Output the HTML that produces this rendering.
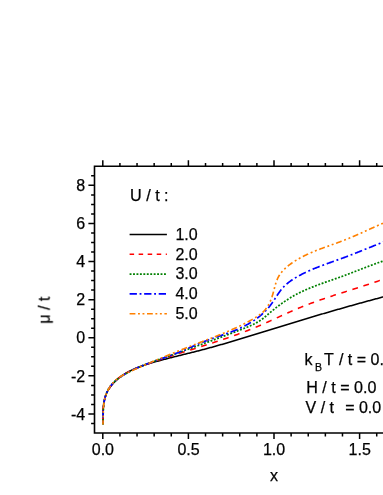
<!DOCTYPE html>
<html><head><meta charset="utf-8"><title>chart</title>
<style>html,body{margin:0;padding:0;background:#fff;width:383px;height:495px;overflow:hidden;font-family:"Liberation Sans",sans-serif}</style>
</head><body>
<svg width="383" height="495" viewBox="0 0 383 495" style="position:absolute;left:0;top:0">
<rect width="383" height="495" fill="#fff"/>
<path d="M103.01,424.48 L103.04,423.67 L103.06,422.85 L103.08,422.02 L103.09,421.19 L103.10,420.35 L103.10,419.51 L103.10,418.66 L103.10,417.80 L103.10,416.94 L103.10,416.08 L103.10,415.21 L103.11,414.34 L103.11,413.47 L103.12,412.60 L103.14,411.72 L103.16,410.85 L103.19,409.97 L103.23,409.10 L103.27,408.22 L103.33,407.35 L103.40,406.48 L103.47,405.61 L103.56,404.75 L103.67,403.88 L103.78,403.03 L103.92,402.17 L104.07,401.32 L104.23,400.48 L104.42,399.64 L104.62,398.81 L104.85,397.99 L105.09,397.17 L105.36,396.36 L105.64,395.56 L105.95,394.77 L106.28,393.99 L106.63,393.21 L106.99,392.44 L107.37,391.69 L107.77,390.94 L108.19,390.20 L108.63,389.47 L109.08,388.75 L109.54,388.04 L110.02,387.34 L110.52,386.66 L111.02,385.98 L111.55,385.31 L112.08,384.65 L112.62,384.01 L113.18,383.38 L113.75,382.75 L114.33,382.14 L114.91,381.55 L115.51,380.96 L116.12,380.38 L116.74,379.82 L117.36,379.26 L118.00,378.72 L118.64,378.19 L119.29,377.67 L119.95,377.16 L120.62,376.65 L121.30,376.16 L121.98,375.68 L122.67,375.21 L123.37,374.74 L124.08,374.29 L124.79,373.85 L125.51,373.41 L126.24,372.98 L126.97,372.56 L127.71,372.15 L128.46,371.75 L129.21,371.35 L129.96,370.97 L130.73,370.59 L131.50,370.22 L132.27,369.85 L133.05,369.49 L133.83,369.14 L134.62,368.80 L135.41,368.46 L136.20,368.13 L137.00,367.80 L137.81,367.48 L138.61,367.17 L139.42,366.86 L140.24,366.56 L141.05,366.26 L141.87,365.97 L142.69,365.68 L143.52,365.40 L144.35,365.12 L145.17,364.84 L146.00,364.57 L146.84,364.31 L147.67,364.05 L148.50,363.79 L149.34,363.53 L150.17,363.28 L151.01,363.03 L151.85,362.79 L152.69,362.54 L153.52,362.30 L154.36,362.06 L155.20,361.83 L156.04,361.59 L156.87,361.36 L157.71,361.13 L158.54,360.90 L159.38,360.68 L160.21,360.45 L161.04,360.23 L161.87,360.00 L162.71,359.78 L163.54,359.56 L164.37,359.35 L165.20,359.13 L166.03,358.91 L166.86,358.70 L167.68,358.49 L168.51,358.27 L169.34,358.06 L170.17,357.85 L170.99,357.64 L171.82,357.43 L172.64,357.23 L173.47,357.02 L174.29,356.81 L175.12,356.61 L175.94,356.40 L176.77,356.20 L177.59,355.99 L178.41,355.79 L179.23,355.59 L180.06,355.38 L180.88,355.18 L181.70,354.98 L182.52,354.78 L183.34,354.57 L184.16,354.37 L184.98,354.17 L185.81,353.97 L186.63,353.76 L187.45,353.56 L188.27,353.36 L189.09,353.15 L189.91,352.95 L190.73,352.75 L191.54,352.54 L192.36,352.34 L193.18,352.13 L194.00,351.93 L194.82,351.72 L195.64,351.51 L196.46,351.30 L197.28,351.09 L198.10,350.88 L198.92,350.67 L199.74,350.46 L200.56,350.25 L201.38,350.03 L202.20,349.82 L203.01,349.60 L203.83,349.39 L204.65,349.17 L205.47,348.95 L206.29,348.73 L207.11,348.51 L207.93,348.29 L208.75,348.06 L209.57,347.84 L210.39,347.61 L211.21,347.39 L212.03,347.16 L212.85,346.93 L213.67,346.71 L214.49,346.48 L215.31,346.25 L216.13,346.02 L216.95,345.78 L217.77,345.55 L218.59,345.32 L219.41,345.08 L220.23,344.85 L221.05,344.61 L221.87,344.38 L222.69,344.14 L223.51,343.90 L224.34,343.67 L225.16,343.43 L225.98,343.19 L226.80,342.95 L227.62,342.71 L228.44,342.46 L229.26,342.22 L230.08,341.98 L230.90,341.74 L231.72,341.49 L232.54,341.25 L233.36,341.00 L234.18,340.76 L235.00,340.51 L235.82,340.27 L236.64,340.02 L237.46,339.77 L238.28,339.53 L239.10,339.28 L239.92,339.03 L240.74,338.78 L241.56,338.53 L242.38,338.28 L243.20,338.03 L244.02,337.78 L244.84,337.53 L245.66,337.28 L246.48,337.03 L247.30,336.78 L248.12,336.53 L248.94,336.28 L249.77,336.02 L250.59,335.77 L251.41,335.52 L252.23,335.27 L253.04,335.01 L253.86,334.76 L254.68,334.51 L255.50,334.25 L256.32,334.00 L257.14,333.75 L257.96,333.49 L258.78,333.24 L259.60,332.98 L260.42,332.73 L261.24,332.48 L262.06,332.22 L262.88,331.97 L263.70,331.71 L264.52,331.46 L265.34,331.20 L266.16,330.95 L266.98,330.70 L267.80,330.44 L268.61,330.19 L269.43,329.93 L270.25,329.68 L271.07,329.43 L271.89,329.17 L272.71,328.92 L273.53,328.67 L274.35,328.41 L275.16,328.16 L275.98,327.91 L276.80,327.66 L277.62,327.40 L278.44,327.15 L279.25,326.90 L280.07,326.65 L280.89,326.40 L281.71,326.15 L282.53,325.90 L283.34,325.65 L284.16,325.39 L284.98,325.14 L285.80,324.89 L286.61,324.64 L287.43,324.39 L288.25,324.15 L289.07,323.90 L289.88,323.65 L290.70,323.40 L291.52,323.15 L292.33,322.90 L293.15,322.65 L293.97,322.41 L294.79,322.16 L295.60,321.91 L296.42,321.66 L297.24,321.42 L298.05,321.17 L298.87,320.92 L299.69,320.68 L300.51,320.43 L301.32,320.18 L302.14,319.94 L302.96,319.69 L303.77,319.45 L304.59,319.20 L305.41,318.96 L306.23,318.71 L307.04,318.47 L307.86,318.22 L308.68,317.98 L309.49,317.74 L310.31,317.49 L311.13,317.25 L311.95,317.01 L312.76,316.76 L313.58,316.52 L314.40,316.28 L315.21,316.04 L316.03,315.80 L316.85,315.56 L317.67,315.31 L318.48,315.07 L319.30,314.83 L320.12,314.59 L320.94,314.35 L321.75,314.11 L322.57,313.87 L323.39,313.63 L324.21,313.39 L325.03,313.15 L325.84,312.91 L326.66,312.68 L327.48,312.44 L328.30,312.20 L329.12,311.96 L329.94,311.72 L330.75,311.49 L331.57,311.25 L332.39,311.01 L333.21,310.78 L334.03,310.54 L334.85,310.30 L335.67,310.07 L336.49,309.83 L337.31,309.60 L338.12,309.36 L338.94,309.13 L339.76,308.89 L340.58,308.66 L341.40,308.43 L342.22,308.19 L343.04,307.96 L343.86,307.73 L344.68,307.49 L345.50,307.26 L346.32,307.03 L347.15,306.80 L347.97,306.56 L348.79,306.33 L349.61,306.10 L350.43,305.87 L351.25,305.64 L352.07,305.41 L352.89,305.18 L353.72,304.95 L354.54,304.72 L355.36,304.49 L356.18,304.26 L357.00,304.03 L357.83,303.80 L358.65,303.58 L359.47,303.35 L360.30,303.12 L361.12,302.89 L361.94,302.67 L362.77,302.44 L363.59,302.21 L364.41,301.99 L365.24,301.76 L366.06,301.54 L366.89,301.31 L367.71,301.09 L368.54,300.86 L369.36,300.64 L370.19,300.41 L371.01,300.19 L371.84,299.96 L372.66,299.74 L373.49,299.52 L374.32,299.30 L375.14,299.07 L375.97,298.85 L376.80,298.63 L377.62,298.41 L378.45,298.19 L379.28,297.97 L380.11,297.74 L380.94,297.52 L381.76,297.30 L382.59,297.08 L383.42,296.87 L384.25,296.65 L385.08,296.43 L385.91,296.21 L386.74,295.99 L387.57,295.77 L388.40,295.55 L389.23,295.34 L390.06,295.12 L390.89,294.90 L391.72,294.69 L392.56,294.47 L393.39,294.26 L394.22,294.04 L395.05,293.83" fill="none" stroke="#000000" stroke-width="1.55"/>
<path d="M103.14,424.52 L103.10,423.68 L103.06,422.84 L103.02,421.99 L102.99,421.13 L102.96,420.27 L102.94,419.41 L102.92,418.54 L102.90,417.66 L102.89,416.78 L102.89,415.90 L102.90,415.02 L102.91,414.13 L102.93,413.25 L102.96,412.36 L103.00,411.47 L103.04,410.58 L103.10,409.69 L103.16,408.81 L103.24,407.92 L103.33,407.03 L103.43,406.15 L103.54,405.27 L103.66,404.39 L103.79,403.52 L103.94,402.65 L104.11,401.79 L104.28,400.93 L104.47,400.07 L104.68,399.22 L104.90,398.38 L105.14,397.55 L105.40,396.72 L105.67,395.90 L105.96,395.09 L106.26,394.29 L106.59,393.49 L106.93,392.71 L107.30,391.93 L107.68,391.17 L108.08,390.42 L108.49,389.67 L108.93,388.94 L109.37,388.22 L109.84,387.50 L110.32,386.80 L110.82,386.11 L111.33,385.43 L111.86,384.76 L112.40,384.10 L112.96,383.46 L113.52,382.82 L114.11,382.20 L114.70,381.59 L115.31,380.98 L115.93,380.40 L116.56,379.82 L117.20,379.25 L117.85,378.70 L118.51,378.16 L119.18,377.63 L119.87,377.11 L120.56,376.61 L121.26,376.11 L121.97,375.63 L122.69,375.15 L123.41,374.69 L124.15,374.23 L124.89,373.79 L125.64,373.35 L126.40,372.92 L127.16,372.51 L127.93,372.10 L128.70,371.69 L129.48,371.30 L130.27,370.91 L131.06,370.53 L131.86,370.16 L132.66,369.79 L133.47,369.43 L134.28,369.08 L135.09,368.73 L135.90,368.39 L136.72,368.05 L137.54,367.72 L138.37,367.39 L139.20,367.06 L140.02,366.74 L140.85,366.43 L141.68,366.11 L142.51,365.80 L143.35,365.50 L144.18,365.19 L145.01,364.89 L145.84,364.59 L146.67,364.29 L147.50,363.99 L148.33,363.69 L149.16,363.40 L149.99,363.11 L150.82,362.81 L151.65,362.52 L152.48,362.24 L153.30,361.95 L154.13,361.66 L154.96,361.38 L155.78,361.10 L156.61,360.81 L157.43,360.53 L158.26,360.25 L159.08,359.98 L159.91,359.70 L160.73,359.42 L161.56,359.15 L162.38,358.88 L163.20,358.60 L164.03,358.33 L164.85,358.06 L165.67,357.79 L166.49,357.52 L167.31,357.25 L168.14,356.99 L168.96,356.72 L169.78,356.46 L170.60,356.19 L171.42,355.93 L172.24,355.66 L173.07,355.40 L173.89,355.14 L174.71,354.88 L175.53,354.62 L176.35,354.36 L177.17,354.10 L177.99,353.84 L178.81,353.58 L179.63,353.32 L180.46,353.06 L181.28,352.80 L182.10,352.54 L182.92,352.29 L183.74,352.03 L184.56,351.77 L185.39,351.51 L186.21,351.26 L187.03,351.00 L187.85,350.74 L188.68,350.48 L189.50,350.23 L190.32,349.97 L191.14,349.71 L191.97,349.45 L192.79,349.20 L193.62,348.94 L194.44,348.68 L195.27,348.42 L196.09,348.16 L196.92,347.90 L197.74,347.65 L198.57,347.39 L199.39,347.13 L200.22,346.87 L201.05,346.60 L201.87,346.34 L202.70,346.08 L203.53,345.82 L204.35,345.56 L205.18,345.29 L206.01,345.03 L206.83,344.77 L207.66,344.50 L208.49,344.24 L209.32,343.97 L210.14,343.70 L210.97,343.44 L211.80,343.17 L212.63,342.90 L213.45,342.63 L214.28,342.36 L215.11,342.09 L215.93,341.82 L216.76,341.55 L217.59,341.27 L218.41,341.00 L219.24,340.73 L220.07,340.45 L220.89,340.17 L221.72,339.90 L222.54,339.62 L223.37,339.34 L224.19,339.06 L225.02,338.78 L225.84,338.49 L226.67,338.21 L227.49,337.93 L228.31,337.64 L229.14,337.35 L229.96,337.07 L230.78,336.78 L231.60,336.49 L232.43,336.20 L233.25,335.90 L234.07,335.61 L234.89,335.32 L235.71,335.02 L236.53,334.72 L237.35,334.42 L238.16,334.12 L238.98,333.82 L239.80,333.52 L240.62,333.22 L241.43,332.91 L242.25,332.60 L243.06,332.29 L243.88,331.98 L244.69,331.67 L245.50,331.36 L246.32,331.05 L247.13,330.73 L247.94,330.41 L248.75,330.09 L249.56,329.77 L250.37,329.45 L251.18,329.13 L251.98,328.80 L252.79,328.47 L253.59,328.14 L254.40,327.81 L255.20,327.48 L256.01,327.15 L256.81,326.81 L257.61,326.47 L258.41,326.13 L259.21,325.79 L260.01,325.45 L260.81,325.10 L261.60,324.76 L262.40,324.41 L263.20,324.06 L263.99,323.71 L264.78,323.35 L265.58,323.00 L266.37,322.65 L267.16,322.29 L267.96,321.93 L268.75,321.58 L269.54,321.22 L270.33,320.86 L271.12,320.50 L271.91,320.14 L272.70,319.78 L273.49,319.42 L274.28,319.06 L275.07,318.69 L275.86,318.33 L276.65,317.97 L277.43,317.61 L278.22,317.25 L279.01,316.88 L279.80,316.52 L280.59,316.16 L281.38,315.80 L282.17,315.44 L282.96,315.08 L283.75,314.72 L284.54,314.36 L285.33,314.00 L286.12,313.64 L286.91,313.28 L287.70,312.93 L288.49,312.57 L289.28,312.22 L290.07,311.87 L290.87,311.52 L291.66,311.17 L292.45,310.82 L293.25,310.47 L294.04,310.13 L294.84,309.78 L295.63,309.44 L296.43,309.10 L297.23,308.76 L298.03,308.42 L298.83,308.09 L299.63,307.76 L300.43,307.43 L301.23,307.10 L302.04,306.77 L302.84,306.45 L303.65,306.13 L304.45,305.81 L305.26,305.49 L306.07,305.17 L306.88,304.86 L307.69,304.55 L308.50,304.24 L309.31,303.93 L310.12,303.62 L310.93,303.32 L311.75,303.02 L312.56,302.72 L313.38,302.42 L314.19,302.12 L315.01,301.82 L315.83,301.53 L316.64,301.24 L317.46,300.94 L318.28,300.65 L319.10,300.36 L319.92,300.08 L320.74,299.79 L321.56,299.51 L322.38,299.22 L323.21,298.94 L324.03,298.66 L324.85,298.38 L325.68,298.10 L326.50,297.82 L327.32,297.55 L328.15,297.27 L328.97,297.00 L329.80,296.72 L330.63,296.45 L331.45,296.18 L332.28,295.90 L333.11,295.63 L333.93,295.36 L334.76,295.10 L335.59,294.83 L336.42,294.56 L337.25,294.29 L338.08,294.03 L338.91,293.76 L339.73,293.49 L340.56,293.23 L341.39,292.96 L342.22,292.70 L343.05,292.43 L343.88,292.17 L344.71,291.91 L345.54,291.64 L346.37,291.38 L347.20,291.12 L348.03,290.86 L348.86,290.59 L349.70,290.33 L350.53,290.07 L351.36,289.80 L352.19,289.54 L353.02,289.28 L353.85,289.02 L354.68,288.75 L355.51,288.49 L356.34,288.23 L357.17,287.96 L358.00,287.70 L358.82,287.43 L359.65,287.17 L360.48,286.90 L361.31,286.64 L362.14,286.37 L362.97,286.10 L363.80,285.84 L364.62,285.57 L365.45,285.30 L366.28,285.03 L367.11,284.76 L367.93,284.49 L368.76,284.22 L369.58,283.95 L370.41,283.67 L371.23,283.40 L372.06,283.12 L372.88,282.85 L373.71,282.57 L374.53,282.29 L375.35,282.01 L376.17,281.73 L376.99,281.45 L377.82,281.17 L378.64,280.88 L379.46,280.60 L380.27,280.31 L381.09,280.02 L381.91,279.73 L382.73,279.44 L383.55,279.15 L384.36,278.86 L385.18,278.56 L385.99,278.27 L386.81,277.97 L387.62,277.67 L388.43,277.37 L389.24,277.06 L390.05,276.76 L390.86,276.45 L391.67,276.14 L392.48,275.83 L393.29,275.52 L394.10,275.20 L394.90,274.89" fill="none" stroke="#ff0000" stroke-width="1.55" stroke-dasharray="5.8 5.757" stroke-dashoffset="10.267"/>
<path d="M102.94,424.37 L102.96,423.58 L102.98,422.77 L102.99,421.94 L103.01,421.11 L103.02,420.26 L103.03,419.40 L103.05,418.54 L103.06,417.67 L103.08,416.78 L103.10,415.89 L103.12,415.00 L103.15,414.10 L103.18,413.19 L103.22,412.28 L103.26,411.36 L103.31,410.45 L103.37,409.53 L103.43,408.61 L103.51,407.69 L103.59,406.77 L103.68,405.85 L103.78,404.93 L103.90,404.01 L104.02,403.10 L104.16,402.19 L104.32,401.29 L104.48,400.39 L104.66,399.49 L104.86,398.61 L105.07,397.73 L105.30,396.86 L105.54,396.00 L105.80,395.15 L106.08,394.31 L106.38,393.48 L106.70,392.66 L107.04,391.85 L107.41,391.06 L107.79,390.28 L108.19,389.52 L108.62,388.77 L109.07,388.04 L109.55,387.33 L110.04,386.63 L110.55,385.94 L111.09,385.27 L111.64,384.61 L112.21,383.96 L112.80,383.33 L113.41,382.71 L114.03,382.10 L114.66,381.51 L115.31,380.92 L115.98,380.35 L116.66,379.79 L117.35,379.24 L118.05,378.70 L118.77,378.18 L119.49,377.66 L120.23,377.15 L120.97,376.65 L121.72,376.16 L122.48,375.68 L123.25,375.20 L124.02,374.74 L124.80,374.28 L125.59,373.83 L126.38,373.39 L127.17,372.95 L127.96,372.52 L128.76,372.10 L129.55,371.68 L130.35,371.27 L131.16,370.86 L131.96,370.46 L132.76,370.06 L133.57,369.67 L134.38,369.29 L135.19,368.91 L136.00,368.53 L136.81,368.16 L137.62,367.79 L138.44,367.43 L139.25,367.07 L140.07,366.72 L140.89,366.37 L141.71,366.02 L142.53,365.68 L143.35,365.34 L144.17,365.01 L145.00,364.68 L145.82,364.35 L146.65,364.02 L147.47,363.70 L148.30,363.38 L149.13,363.06 L149.96,362.75 L150.79,362.44 L151.62,362.13 L152.45,361.82 L153.28,361.52 L154.12,361.21 L154.95,360.91 L155.78,360.61 L156.62,360.31 L157.45,360.01 L158.29,359.72 L159.12,359.42 L159.96,359.13 L160.80,358.83 L161.63,358.54 L162.47,358.25 L163.31,357.96 L164.14,357.67 L164.98,357.38 L165.82,357.08 L166.66,356.79 L167.49,356.50 L168.33,356.21 L169.17,355.92 L170.00,355.62 L170.84,355.33 L171.68,355.04 L172.52,354.74 L173.35,354.45 L174.19,354.16 L175.03,353.86 L175.87,353.57 L176.70,353.27 L177.54,352.98 L178.38,352.68 L179.22,352.38 L180.05,352.09 L180.89,351.79 L181.73,351.49 L182.56,351.20 L183.40,350.90 L184.24,350.60 L185.08,350.30 L185.91,350.00 L186.75,349.70 L187.59,349.40 L188.42,349.10 L189.26,348.80 L190.10,348.50 L190.93,348.20 L191.77,347.90 L192.61,347.60 L193.44,347.30 L194.28,347.00 L195.12,346.70 L195.95,346.39 L196.79,346.09 L197.63,345.79 L198.46,345.48 L199.30,345.18 L200.13,344.88 L200.97,344.57 L201.81,344.27 L202.64,343.96 L203.48,343.66 L204.31,343.35 L205.15,343.05 L205.99,342.74 L206.82,342.43 L207.66,342.13 L208.49,341.82 L209.33,341.51 L210.16,341.20 L211.00,340.89 L211.83,340.59 L212.67,340.28 L213.50,339.97 L214.34,339.66 L215.17,339.35 L216.01,339.04 L216.84,338.73 L217.67,338.42 L218.51,338.11 L219.34,337.80 L220.18,337.48 L221.01,337.17 L221.84,336.86 L222.68,336.55 L223.51,336.23 L224.34,335.92 L225.18,335.61 L226.01,335.29 L226.84,334.98 L227.68,334.66 L228.51,334.35 L229.34,334.03 L230.17,333.72 L231.01,333.40 L231.84,333.09 L232.67,332.77 L233.50,332.45 L234.33,332.14 L235.17,331.82 L236.00,331.50 L236.83,331.18 L237.66,330.86 L238.49,330.55 L239.32,330.23 L240.15,329.91 L240.98,329.59 L241.81,329.27 L242.64,328.95 L243.47,328.63 L244.30,328.30 L245.13,327.97 L245.95,327.65 L246.78,327.31 L247.60,326.97 L248.41,326.63 L249.23,326.28 L250.04,325.93 L250.85,325.57 L251.65,325.20 L252.45,324.83 L253.24,324.44 L254.03,324.05 L254.82,323.65 L255.60,323.24 L256.37,322.81 L257.13,322.38 L257.89,321.93 L258.64,321.47 L259.39,321.00 L260.12,320.51 L260.85,320.01 L261.57,319.50 L262.29,318.97 L263.00,318.44 L263.70,317.89 L264.40,317.34 L265.09,316.78 L265.78,316.21 L266.47,315.64 L267.16,315.06 L267.84,314.48 L268.53,313.90 L269.21,313.32 L269.90,312.74 L270.58,312.17 L271.27,311.59 L271.96,311.02 L272.65,310.45 L273.35,309.89 L274.04,309.33 L274.74,308.77 L275.44,308.22 L276.15,307.67 L276.85,307.12 L277.56,306.58 L278.27,306.04 L278.98,305.51 L279.69,304.98 L280.41,304.45 L281.13,303.93 L281.85,303.41 L282.58,302.90 L283.30,302.39 L284.03,301.88 L284.77,301.38 L285.50,300.89 L286.24,300.40 L286.98,299.91 L287.72,299.43 L288.47,298.96 L289.22,298.49 L289.97,298.02 L290.72,297.56 L291.48,297.11 L292.24,296.66 L293.01,296.22 L293.77,295.78 L294.54,295.35 L295.32,294.92 L296.09,294.50 L296.87,294.09 L297.66,293.68 L298.44,293.28 L299.23,292.88 L300.02,292.48 L300.82,292.10 L301.61,291.72 L302.41,291.34 L303.22,290.96 L304.02,290.60 L304.83,290.23 L305.64,289.87 L306.45,289.52 L307.26,289.17 L308.08,288.82 L308.90,288.47 L309.72,288.13 L310.54,287.80 L311.36,287.46 L312.19,287.13 L313.01,286.81 L313.84,286.48 L314.67,286.16 L315.50,285.84 L316.34,285.53 L317.17,285.21 L318.01,284.90 L318.84,284.59 L319.68,284.29 L320.52,283.98 L321.36,283.68 L322.20,283.37 L323.04,283.07 L323.88,282.77 L324.72,282.48 L325.56,282.18 L326.41,281.88 L327.25,281.59 L328.09,281.29 L328.94,281.00 L329.78,280.71 L330.63,280.41 L331.47,280.12 L332.31,279.82 L333.16,279.53 L334.00,279.24 L334.84,278.94 L335.69,278.65 L336.53,278.35 L337.37,278.06 L338.21,277.76 L339.05,277.46 L339.89,277.16 L340.73,276.86 L341.57,276.56 L342.40,276.25 L343.24,275.95 L344.07,275.64 L344.91,275.33 L345.74,275.02 L346.57,274.71 L347.40,274.40 L348.24,274.08 L349.07,273.77 L349.90,273.45 L350.72,273.14 L351.55,272.82 L352.38,272.50 L353.21,272.18 L354.04,271.86 L354.86,271.55 L355.69,271.23 L356.52,270.91 L357.34,270.59 L358.17,270.27 L359.00,269.95 L359.82,269.63 L360.65,269.31 L361.47,268.99 L362.30,268.67 L363.13,268.35 L363.95,268.03 L364.78,267.71 L365.61,267.39 L366.43,267.08 L367.26,266.76 L368.09,266.45 L368.92,266.13 L369.75,265.82 L370.58,265.51 L371.41,265.20 L372.24,264.89 L373.07,264.58 L373.90,264.28 L374.73,263.97 L375.57,263.67 L376.40,263.37 L377.24,263.07 L378.07,262.77 L378.91,262.47 L379.75,262.18 L380.59,261.89 L381.43,261.60 L382.27,261.31 L383.11,261.03 L383.96,260.74 L384.80,260.46 L385.65,260.19 L386.50,259.91 L387.35,259.64 L388.20,259.37 L389.05,259.10 L389.91,258.84 L390.76,258.58 L391.62,258.32 L392.48,258.07 L393.34,257.82 L394.20,257.57 L395.07,257.33" fill="none" stroke="#008000" stroke-width="1.75" stroke-dasharray="1.9 1.6" stroke-dashoffset="0.000"/>
<path d="M103.02,424.44 L103.02,423.59 L103.01,422.73 L103.00,421.86 L103.00,420.98 L102.99,420.09 L102.99,419.19 L102.99,418.28 L103.00,417.37 L103.01,416.45 L103.02,415.52 L103.04,414.59 L103.07,413.66 L103.10,412.72 L103.14,411.77 L103.19,410.83 L103.25,409.88 L103.32,408.93 L103.39,407.99 L103.48,407.04 L103.58,406.10 L103.69,405.15 L103.81,404.21 L103.94,403.28 L104.09,402.34 L104.25,401.42 L104.43,400.50 L104.63,399.58 L104.84,398.67 L105.06,397.77 L105.31,396.88 L105.57,396.00 L105.85,395.13 L106.15,394.26 L106.47,393.41 L106.81,392.58 L107.17,391.75 L107.55,390.94 L107.96,390.14 L108.39,389.36 L108.84,388.60 L109.32,387.84 L109.81,387.11 L110.33,386.39 L110.87,385.68 L111.43,384.99 L112.01,384.31 L112.60,383.64 L113.22,382.99 L113.85,382.35 L114.49,381.73 L115.16,381.11 L115.83,380.51 L116.53,379.92 L117.23,379.35 L117.95,378.78 L118.68,378.22 L119.42,377.68 L120.17,377.14 L120.93,376.62 L121.70,376.11 L122.48,375.60 L123.27,375.11 L124.06,374.62 L124.86,374.14 L125.67,373.68 L126.48,373.22 L127.29,372.76 L128.11,372.32 L128.93,371.88 L129.75,371.45 L130.58,371.03 L131.41,370.61 L132.24,370.20 L133.07,369.80 L133.90,369.40 L134.74,369.01 L135.58,368.62 L136.42,368.24 L137.26,367.87 L138.11,367.50 L138.95,367.13 L139.80,366.78 L140.65,366.42 L141.50,366.07 L142.35,365.72 L143.21,365.38 L144.06,365.04 L144.92,364.71 L145.78,364.38 L146.64,364.05 L147.50,363.72 L148.36,363.40 L149.22,363.08 L150.08,362.77 L150.94,362.45 L151.81,362.14 L152.67,361.83 L153.54,361.52 L154.40,361.21 L155.27,360.90 L156.13,360.60 L157.00,360.29 L157.87,359.99 L158.73,359.69 L159.60,359.38 L160.47,359.08 L161.33,358.78 L162.20,358.48 L163.07,358.17 L163.93,357.87 L164.80,357.56 L165.66,357.26 L166.53,356.95 L167.39,356.64 L168.25,356.33 L169.12,356.02 L169.98,355.70 L170.84,355.39 L171.70,355.07 L172.56,354.75 L173.41,354.42 L174.27,354.09 L175.13,353.76 L175.98,353.43 L176.83,353.09 L177.68,352.75 L178.53,352.41 L179.38,352.06 L180.23,351.71 L181.08,351.36 L181.92,351.01 L182.77,350.65 L183.61,350.29 L184.46,349.93 L185.30,349.57 L186.15,349.21 L186.99,348.85 L187.83,348.48 L188.67,348.12 L189.52,347.76 L190.36,347.39 L191.20,347.03 L192.04,346.66 L192.89,346.30 L193.73,345.93 L194.57,345.57 L195.42,345.21 L196.26,344.85 L197.11,344.49 L197.95,344.13 L198.80,343.78 L199.65,343.42 L200.50,343.07 L201.35,342.72 L202.20,342.37 L203.05,342.03 L203.90,341.69 L204.76,341.35 L205.61,341.01 L206.47,340.68 L207.33,340.36 L208.19,340.03 L209.05,339.71 L209.91,339.40 L210.78,339.08 L211.64,338.77 L212.51,338.47 L213.38,338.16 L214.25,337.86 L215.12,337.56 L215.99,337.26 L216.86,336.96 L217.73,336.66 L218.61,336.36 L219.48,336.06 L220.35,335.77 L221.22,335.47 L222.09,335.17 L222.97,334.87 L223.84,334.57 L224.71,334.27 L225.58,333.96 L226.45,333.65 L227.31,333.34 L228.18,333.03 L229.05,332.71 L229.91,332.39 L230.77,332.07 L231.64,331.74 L232.50,331.41 L233.35,331.08 L234.21,330.73 L235.06,330.39 L235.92,330.03 L236.77,329.67 L237.61,329.31 L238.46,328.94 L239.30,328.56 L240.14,328.18 L240.98,327.79 L241.81,327.39 L242.64,326.99 L243.46,326.58 L244.29,326.16 L245.10,325.74 L245.92,325.31 L246.73,324.87 L247.53,324.42 L248.33,323.97 L249.13,323.51 L249.92,323.04 L250.70,322.57 L251.48,322.09 L252.26,321.60 L253.03,321.10 L253.79,320.60 L254.55,320.09 L255.30,319.57 L256.04,319.04 L256.78,318.50 L257.51,317.96 L258.23,317.40 L258.95,316.84 L259.66,316.27 L260.36,315.69 L261.06,315.11 L261.75,314.51 L262.43,313.91 L263.10,313.30 L263.76,312.67 L264.41,312.04 L265.06,311.40 L265.70,310.76 L266.33,310.10 L266.95,309.43 L267.56,308.75 L268.16,308.07 L268.75,307.37 L269.33,306.67 L269.90,305.95 L270.46,305.23 L271.01,304.49 L271.55,303.75 L272.09,303.00 L272.61,302.24 L273.13,301.47 L273.65,300.71 L274.16,299.93 L274.67,299.16 L275.18,298.38 L275.68,297.61 L276.19,296.83 L276.70,296.06 L277.21,295.29 L277.72,294.52 L278.24,293.76 L278.76,293.00 L279.29,292.25 L279.83,291.51 L280.37,290.78 L280.93,290.05 L281.50,289.34 L282.08,288.64 L282.67,287.96 L283.27,287.28 L283.90,286.63 L284.53,285.99 L285.18,285.36 L285.85,284.75 L286.52,284.15 L287.21,283.56 L287.91,282.99 L288.63,282.43 L289.35,281.88 L290.08,281.34 L290.82,280.82 L291.57,280.30 L292.32,279.79 L293.09,279.30 L293.86,278.81 L294.63,278.32 L295.41,277.85 L296.19,277.38 L296.98,276.92 L297.77,276.47 L298.57,276.02 L299.37,275.58 L300.17,275.14 L300.98,274.71 L301.79,274.29 L302.60,273.87 L303.42,273.46 L304.24,273.06 L305.07,272.65 L305.89,272.26 L306.72,271.87 L307.56,271.48 L308.39,271.10 L309.23,270.72 L310.07,270.35 L310.91,269.98 L311.76,269.62 L312.60,269.26 L313.45,268.90 L314.31,268.55 L315.16,268.20 L316.02,267.85 L316.87,267.51 L317.73,267.17 L318.59,266.84 L319.45,266.50 L320.32,266.17 L321.18,265.84 L322.05,265.51 L322.92,265.19 L323.78,264.87 L324.65,264.55 L325.52,264.23 L326.39,263.91 L327.26,263.59 L328.13,263.28 L329.01,262.96 L329.88,262.65 L330.75,262.34 L331.62,262.03 L332.50,261.72 L333.37,261.41 L334.24,261.09 L335.11,260.78 L335.98,260.47 L336.86,260.16 L337.73,259.85 L338.60,259.54 L339.46,259.23 L340.33,258.91 L341.20,258.60 L342.07,258.28 L342.93,257.96 L343.80,257.65 L344.66,257.33 L345.52,257.00 L346.38,256.68 L347.24,256.36 L348.10,256.03 L348.95,255.70 L349.81,255.38 L350.66,255.05 L351.52,254.72 L352.37,254.39 L353.22,254.05 L354.08,253.72 L354.93,253.39 L355.78,253.05 L356.63,252.72 L357.48,252.38 L358.33,252.04 L359.18,251.70 L360.02,251.37 L360.87,251.03 L361.72,250.69 L362.57,250.35 L363.42,250.01 L364.26,249.67 L365.11,249.32 L365.96,248.98 L366.80,248.64 L367.65,248.30 L368.50,247.96 L369.34,247.62 L370.19,247.27 L371.04,246.93 L371.89,246.59 L372.74,246.25 L373.58,245.91 L374.43,245.57 L375.28,245.23 L376.13,244.88 L376.98,244.54 L377.84,244.20 L378.69,243.87 L379.54,243.53 L380.39,243.19 L381.25,242.85 L382.10,242.51 L382.96,242.18 L383.82,241.84 L384.67,241.51 L385.53,241.17 L386.39,240.84 L387.25,240.51 L388.12,240.18 L388.98,239.85 L389.84,239.52 L390.71,239.19 L391.58,238.87 L392.45,238.54 L393.32,238.22 L394.19,237.89 L395.06,237.57" fill="none" stroke="#0000ff" stroke-width="1.7" stroke-dasharray="7.56 2.8 1.92 2.8" stroke-dashoffset="8.530"/>
<path d="M102.94,424.46 L102.97,423.54 L103.00,422.61 L103.03,421.68 L103.05,420.74 L103.06,419.80 L103.08,418.85 L103.09,417.90 L103.11,416.95 L103.12,415.99 L103.14,415.03 L103.16,414.07 L103.19,413.11 L103.22,412.14 L103.26,411.18 L103.30,410.21 L103.36,409.24 L103.42,408.28 L103.50,407.31 L103.59,406.34 L103.69,405.38 L103.80,404.42 L103.93,403.46 L104.08,402.51 L104.24,401.55 L104.42,400.60 L104.63,399.66 L104.84,398.72 L105.08,397.79 L105.34,396.86 L105.62,395.95 L105.92,395.04 L106.24,394.14 L106.58,393.25 L106.94,392.36 L107.33,391.50 L107.74,390.64 L108.17,389.79 L108.63,388.96 L109.11,388.14 L109.62,387.33 L110.15,386.54 L110.70,385.77 L111.27,385.01 L111.86,384.26 L112.47,383.53 L113.10,382.82 L113.75,382.13 L114.42,381.45 L115.10,380.79 L115.80,380.15 L116.52,379.52 L117.25,378.92 L118.00,378.34 L118.76,377.77 L119.54,377.22 L120.32,376.69 L121.12,376.18 L121.93,375.68 L122.75,375.20 L123.58,374.73 L124.42,374.27 L125.26,373.82 L126.11,373.39" fill="none" stroke="#ff8000" stroke-width="1.65" stroke-dasharray="5.97 2.68 1.95 2.68 1.95 2.68" stroke-dashoffset="1.700"/>
<path d="M126.11,373.39 L126.97,372.96 L127.84,372.54 L128.71,372.13 L129.58,371.72 L130.46,371.32 L131.33,370.92 L132.21,370.53 L133.10,370.14 L133.98,369.75 L134.86,369.36 L135.74,368.97 L136.62,368.58 L137.50,368.20 L138.39,367.81 L139.27,367.42 L140.15,367.04 L141.03,366.66 L141.91,366.27 L142.79,365.89 L143.67,365.51 L144.55,365.13 L145.43,364.75 L146.32,364.37 L147.20,363.99 L148.08,363.61 L148.96,363.23 L149.84,362.85 L150.72,362.48 L151.60,362.10 L152.48,361.73 L153.36,361.35 L154.24,360.98 L155.13,360.60 L156.01,360.23 L156.89,359.86 L157.77,359.49 L158.65,359.12 L159.53,358.75 L160.41,358.38 L161.30,358.01 L162.18,357.64 L163.06,357.28 L163.94,356.91 L164.82,356.54 L165.71,356.18 L166.59,355.81 L167.47,355.45 L168.35,355.09 L169.24,354.72 L170.12,354.36 L171.00,354.00 L171.89,353.64 L172.77,353.28 L173.65,352.92 L174.54,352.56 L175.42,352.20 L176.30,351.84 L177.19,351.48 L178.07,351.13 L178.96,350.77 L179.84,350.42 L180.73,350.06 L181.61,349.71 L182.50,349.35 L183.38,349.00 L184.27,348.65 L185.16,348.29 L186.04,347.94 L186.93,347.59 L187.82,347.24 L188.70,346.89 L189.59,346.54 L190.48,346.19 L191.37,345.84 L192.26,345.50 L193.15,345.15 L194.03,344.80 L194.92,344.45 L195.81,344.11 L196.70,343.76 L197.59,343.42 L198.49,343.07 L199.38,342.73 L200.27,342.39 L201.16,342.04 L202.05,341.70 L202.94,341.36 L203.83,341.01 L204.73,340.67 L205.62,340.33 L206.51,339.98 L207.40,339.64 L208.29,339.29 L209.19,338.95 L210.08,338.60 L210.97,338.26 L211.86,337.91 L212.75,337.56 L213.64,337.21 L214.53,336.86 L215.42,336.51 L216.31,336.16 L217.20,335.80 L218.09,335.45 L218.98,335.09 L219.86,334.73 L220.75,334.37 L221.64,334.01 L222.52,333.65 L223.41,333.28 L224.29,332.92 L225.17,332.55 L226.06,332.18 L226.94,331.80 L227.82,331.43 L228.70,331.05 L229.58,330.67 L230.46,330.28 L231.33,329.90 L232.21,329.51 L233.08,329.12 L233.96,328.72 L234.83,328.33 L235.70,327.93 L236.57,327.52 L237.44,327.12 L238.30,326.71 L239.17,326.29 L240.03,325.88 L240.90,325.45 L241.76,325.03 L242.62,324.60 L243.48,324.17 L244.33,323.74 L245.19,323.30 L246.04,322.85 L246.89,322.40 L247.74,321.95 L248.59,321.50 L249.44,321.03 L250.28,320.57 L251.12,320.10 L251.96,319.62 L252.80,319.14 L253.64,318.66 L254.47,318.17 L255.29,317.67 L256.11,317.16 L256.92,316.65 L257.72,316.12 L258.51,315.58 L259.29,315.03 L260.05,314.46 L260.80,313.89 L261.53,313.29 L262.24,312.68 L262.93,312.05 L263.60,311.41 L264.25,310.74 L264.87,310.05 L265.47,309.35 L266.05,308.62 L266.60,307.87 L267.13,307.11 L267.64,306.32 L268.12,305.52 L268.59,304.71 L269.04,303.88 L269.47,303.03 L269.88,302.17 L270.27,301.30 L270.64,300.42 L271.00,299.52 L271.35,298.62 L271.68,297.71 L272.00,296.79 L272.30,295.86 L272.59,294.92 L272.87,293.98 L273.14,293.04 L273.40,292.09 L273.66,291.14 L273.91,290.18 L274.15,289.23 L274.40,288.28 L274.65,287.33 L274.91,286.38 L275.17,285.44 L275.43,284.51 L275.71,283.58 L276.01,282.66 L276.31,281.75 L276.64,280.86 L276.98,279.97 L277.34,279.10 L277.73,278.24 L278.14,277.40 L278.58,276.57 L279.05,275.77 L279.54,274.98 L280.06,274.20 L280.61,273.45 L281.18,272.71 L281.77,271.98 L282.38,271.27 L283.00,270.57 L283.65,269.89 L284.32,269.23 L285.00,268.57 L285.69,267.93 L286.40,267.30 L287.12,266.68 L287.85,266.08 L288.60,265.48 L289.35,264.90 L290.10,264.33 L290.87,263.77 L291.64,263.22 L292.41,262.67 L293.20,262.14 L293.99,261.62 L294.78,261.10 L295.58,260.60 L296.39,260.10 L297.20,259.61 L298.02,259.13 L298.84,258.66 L299.67,258.20 L300.50,257.74 L301.34,257.29 L302.18,256.85 L303.03,256.41 L303.88,255.98 L304.73,255.56 L305.59,255.15 L306.45,254.74 L307.32,254.33 L308.19,253.94 L309.06,253.54 L309.94,253.16 L310.82,252.78 L311.70,252.40 L312.58,252.03 L313.47,251.66 L314.36,251.29 L315.26,250.93 L316.15,250.58 L317.05,250.22 L317.95,249.87 L318.85,249.53 L319.75,249.18 L320.66,248.84 L321.56,248.50 L322.47,248.17 L323.38,247.83 L324.29,247.50 L325.20,247.17 L326.11,246.84 L327.02,246.51 L327.93,246.18 L328.84,245.85 L329.75,245.53 L330.66,245.20 L331.58,244.87 L332.49,244.55 L333.40,244.22 L334.31,243.89 L335.22,243.57 L336.12,243.24 L337.03,242.91 L337.94,242.57 L338.84,242.24 L339.74,241.90 L340.64,241.57 L341.54,241.23 L342.44,240.88 L343.34,240.54 L344.23,240.19 L345.12,239.84 L346.01,239.49 L346.90,239.13 L347.78,238.77 L348.67,238.41 L349.55,238.05 L350.43,237.68 L351.31,237.31 L352.18,236.94 L353.06,236.57 L353.93,236.20 L354.81,235.82 L355.68,235.44 L356.55,235.06 L357.42,234.68 L358.29,234.30 L359.16,233.92 L360.02,233.53 L360.89,233.15 L361.76,232.76 L362.62,232.37 L363.49,231.98 L364.35,231.59 L365.22,231.20 L366.08,230.81 L366.95,230.42 L367.81,230.03 L368.68,229.64 L369.54,229.25 L370.41,228.86 L371.27,228.46 L372.14,228.07 L373.00,227.68 L373.87,227.29 L374.74,226.90 L375.61,226.51 L376.48,226.12 L377.35,225.73 L378.22,225.34 L379.09,224.95 L379.97,224.56 L380.84,224.18 L381.72,223.79 L382.59,223.41 L383.47,223.02 L384.35,222.64 L385.24,222.26 L386.12,221.89 L387.01,221.51 L387.90,221.13 L388.79,220.76 L389.68,220.39 L390.57,220.02 L391.47,219.66 L392.37,219.29 L393.27,218.93 L394.17,218.57 L395.08,218.21" fill="none" stroke="#ff8000" stroke-width="1.65" stroke-dasharray="5.97 2.68 1.95 2.68 1.95 2.68" stroke-dashoffset="11.413"/>
<path d="M385,166.3 L94.5,166.3 L94.5,433.0 L385,433.0" fill="none" stroke="#000" stroke-width="1.6" stroke-linejoin="miter"/>
<path d="M102.80,433.0 v6.1 M102.80,166.3 v-6.1 M119.92,433.0 v3.4 M119.92,166.3 v-3.4 M137.04,433.0 v3.4 M137.04,166.3 v-3.4 M154.16,433.0 v3.4 M154.16,166.3 v-3.4 M171.28,433.0 v3.4 M171.28,166.3 v-3.4 M188.40,433.0 v6.1 M188.40,166.3 v-6.1 M205.52,433.0 v3.4 M205.52,166.3 v-3.4 M222.64,433.0 v3.4 M222.64,166.3 v-3.4 M239.76,433.0 v3.4 M239.76,166.3 v-3.4 M256.88,433.0 v3.4 M256.88,166.3 v-3.4 M274.00,433.0 v6.1 M274.00,166.3 v-6.1 M291.12,433.0 v3.4 M291.12,166.3 v-3.4 M308.24,433.0 v3.4 M308.24,166.3 v-3.4 M325.36,433.0 v3.4 M325.36,166.3 v-3.4 M342.48,433.0 v3.4 M342.48,166.3 v-3.4 M359.60,433.0 v6.1 M359.60,166.3 v-6.1 M376.72,433.0 v3.4 M376.72,166.3 v-3.4 M393.84,433.0 v3.4 M393.84,166.3 v-3.4 M410.96,433.0 v3.4 M410.96,166.3 v-3.4 M428.08,433.0 v3.4 M428.08,166.3 v-3.4 M445.20,433.0 v6.1 M445.20,166.3 v-6.1 M462.32,433.0 v3.4 M462.32,166.3 v-3.4 M479.44,433.0 v3.4 M479.44,166.3 v-3.4 M496.56,433.0 v3.4 M496.56,166.3 v-3.4 M513.68,433.0 v3.4 M513.68,166.3 v-3.4 M94.5,423.48 h-3.4 M94.5,413.95 h-6.1 M94.5,404.43 h-3.4 M94.5,394.90 h-3.4 M94.5,385.38 h-3.4 M94.5,375.85 h-6.1 M94.5,366.32 h-3.4 M94.5,356.80 h-3.4 M94.5,347.27 h-3.4 M94.5,337.75 h-6.1 M94.5,328.23 h-3.4 M94.5,318.70 h-3.4 M94.5,309.18 h-3.4 M94.5,299.65 h-6.1 M94.5,290.12 h-3.4 M94.5,280.60 h-3.4 M94.5,271.07 h-3.4 M94.5,261.55 h-6.1 M94.5,252.02 h-3.4 M94.5,242.50 h-3.4 M94.5,232.97 h-3.4 M94.5,223.45 h-6.1 M94.5,213.93 h-3.4 M94.5,204.40 h-3.4 M94.5,194.88 h-3.4 M94.5,185.35 h-6.1 M94.5,175.82 h-3.4" fill="none" stroke="#000" stroke-width="1.5"/>
<path d="M129.6,234.5 H166.9" fill="none" stroke="#000000" stroke-width="1.55"/>
<path d="M129.6,254.3 H166.9" fill="none" stroke="#ff0000" stroke-width="1.55" stroke-dasharray="4.5 4.54"/>
<path d="M129.6,274.1 H166.9" fill="none" stroke="#008000" stroke-width="1.75" stroke-dasharray="1.9 1.54"/>
<path d="M129.6,293.9 H166.9" fill="none" stroke="#0000ff" stroke-width="1.7" stroke-dasharray="7.3 2.7 1.85 2.7"/>
<path d="M129.6,313.7 H166.9" fill="none" stroke="#ff8000" stroke-width="1.6" stroke-dasharray="5.8 2.6 1.9 2.6 1.9 2.6"/>
<g font-family="Liberation Sans, sans-serif" font-size="16" fill="#000" stroke="#000" stroke-width="0.25" opacity="0.999">
<text x="102.90" y="454.8" text-anchor="middle" >0.0</text>
<text x="188.50" y="454.8" text-anchor="middle" >0.5</text>
<text x="274.10" y="454.8" text-anchor="middle" >1.0</text>
<text x="359.70" y="454.8" text-anchor="middle" >1.5</text>
<text x="85.2" y="191.05" text-anchor="end" >8</text>
<text x="85.2" y="229.15" text-anchor="end" >6</text>
<text x="85.2" y="267.25" text-anchor="end" >4</text>
<text x="85.2" y="305.35" text-anchor="end" >2</text>
<text x="85.2" y="343.45" text-anchor="end" >0</text>
<text x="85.2" y="381.55" text-anchor="end" >-2</text>
<text x="85.2" y="419.65" text-anchor="end" >-4</text>
<text x="273.9" y="480.5" text-anchor="middle" >x</text>
<text transform="translate(49.7,310.2) rotate(-90)" text-anchor="middle">μ / t</text>
<text x="130.0" y="200.6" text-anchor="start" textLength="38.6" lengthAdjust="spacingAndGlyphs">U / t :</text>
<text x="175.4" y="239.8" text-anchor="start" >1.0</text>
<text x="175.4" y="259.6" text-anchor="start" >2.0</text>
<text x="175.4" y="279.40000000000003" text-anchor="start" >3.0</text>
<text x="175.4" y="299.2" text-anchor="start" >4.0</text>
<text x="175.4" y="319.0" text-anchor="start" >5.0</text>
<text x="304.5" y="365.2">k<tspan font-size="10.5" dy="5.7" dx="2.5">B</tspan><tspan dy="-5.7" dx="2.0">T</tspan><tspan dx="1.0"> / t = 0.1</tspan></text>
<text x="306.2" y="392.6" text-anchor="start" textLength="70.2" lengthAdjust="spacingAndGlyphs">H / t = 0.0</text>
<text x="305.6" y="413.3" xml:space="preserve">V / t <tspan dx="2.2"> = 0.0</tspan></text>
</g>
</svg>
</body></html>
